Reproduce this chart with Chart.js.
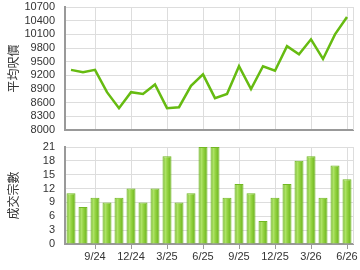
<!DOCTYPE html>
<html>
<head>
<meta charset="utf-8">
<script src="https://cdn.jsdelivr.net/npm/chart.js@4"></script>
<style>
  body { margin: 0; background: #fff; }
  #wrap { position: relative; width: 360px; height: 270px; }
  canvas { position: absolute; left: 0; }
  #priceChart { top: 0; }
  #dealChart { top: 135px; }
</style>
</head>
<body>
<div id="wrap">
  <canvas id="priceChart" width="360" height="140"></canvas>
  <canvas id="dealChart" width="360" height="135"></canvas>
</div>
<script>
const months = ['7/24', '8/24', '9/24', '10/24', '11/24', '12/24', '1/25', '2/25', '3/25', '4/25', '5/25', '6/25',
                '7/25', '8/25', '9/25', '10/25', '11/25', '12/25', '1/26', '2/26', '3/26', '4/26', '5/26', '6/26'];
const tickMonths = ['9/24', '12/24', '3/25', '6/25', '9/25', '12/25', '3/26', '6/26'];
const avgPrice = [9320, 9270, 9320, 8830, 8480, 8830, 8790, 9000, 8480, 8500, 8970, 9220,
                  8700, 8790, 9400, 8900, 9400, 9300, 9840, 9660, 9990, 9560, 10100, 10480];
const deals = [11, 8, 10, 9, 10, 12, 9, 12, 19, 9, 11, 21, 21, 10, 13, 11, 5, 10, 13, 18, 19, 10, 17, 14];

const tickFont = { family: 'Arial, "Liberation Sans", sans-serif', size: 11 };
const titleFont = { family: '"Noto Sans CJK TC", sans-serif', size: 12 };

Chart.defaults.animation = false;
Chart.defaults.color = '#333';

const isTick = (i) => tickMonths.includes(months[i]);

// right edge of the plot frame
const frameRight = {
    id: 'frameRight',
    afterDraw(chart) {
        const a = chart.chartArea, c = chart.ctx;
        c.save();
        c.strokeStyle = '#ddd';
        c.lineWidth = 1;
        c.beginPath();
        c.moveTo(a.right + 0.5, a.top);
        c.lineTo(a.right + 0.5, a.bottom);
        c.stroke();
        c.restore();
    }
};

function xAxis(showLabels) {
    return {
        type: 'category',
        offset: true,
        grid: {
            offset: false,
            color: (c) => isTick(c.index) ? '#ddd' : 'rgba(0,0,0,0)',
            tickColor: (c) => isTick(c.index) ? '#999' : 'rgba(0,0,0,0)',
            drawTicks: showLabels,
            tickLength: 5
        },
        border: { color: '#999', width: 2 },
        ticks: {
            display: showLabels,
            autoSkip: false,
            maxRotation: 0,
            padding: 1,
            font: tickFont,
            callback: (v, i) => isTick(i) ? months[i] : ''
        },
        afterFit: (s) => { s.height = showLabels ? 26 : 0; }
    };
}

function yAxis(min, max, step, title) {
    return {
        min: min,
        max: max,
        // invisible tick marks push the labels away from the axis
        grid: { color: '#ddd', drawTicks: true, tickLength: 10, tickColor: 'rgba(0,0,0,0)' },
        border: { color: '#999', width: 2 },
        ticks: { stepSize: step, autoSkip: false, padding: 0, font: tickFont, callback: (v) => String(v) },
        title: { display: true, text: title, font: titleFont, padding: { top: 6, bottom: 0 } },
        afterFit: (s) => { s.width = 65; }
    };
}

// Line chart - average price per sq ft
new Chart(document.getElementById('priceChart'), {
    type: 'line',
    data: {
        labels: months,
        datasets: [{
            data: avgPrice,
            borderColor: '#66bb11',
            borderWidth: 2.5,
            pointRadius: 0,
            tension: 0
        }]
    },
    options: {
        responsive: false,
        layout: { padding: { top: 7, right: 7, bottom: 10, left: 0 } },
        scales: {
            x: xAxis(false),
            y: yAxis(8000, 10700, 300, '平均呎價')
        },
        plugins: { legend: { display: false }, tooltip: { enabled: false } }
    },
    plugins: [frameRight]
});

// Bar chart - number of deals
function barFill(c) {
    const chart = c.chart;
    const xs = chart.scales.x;
    const cx = xs ? xs.getPixelForValue(c.dataIndex) : NaN;
    if (!isFinite(cx)) return '#88cc33';
    const w = 9;
    const g = chart.ctx.createLinearGradient(cx - w / 2, 0, cx + w / 2, 0);
    g.addColorStop(0, '#62ab16');
    g.addColorStop(0.3, '#b0e46a');
    g.addColorStop(0.55, '#93d340');
    g.addColorStop(1, '#66ae18');
    return g;
}

new Chart(document.getElementById('dealChart'), {
    type: 'bar',
    data: {
        labels: months,
        datasets: [{
            data: deals,
            backgroundColor: barFill,
            borderColor: '#72b823',
            borderWidth: 1,
            barPercentage: 0.75,
            categoryPercentage: 1
        }]
    },
    options: {
        responsive: false,
        layout: { padding: { top: 12, right: 7, bottom: 0, left: 0 } },
        scales: {
            x: xAxis(true),
            y: yAxis(0, 21, 3, '成交宗數')
        },
        plugins: { legend: { display: false }, tooltip: { enabled: false } }
    },
    plugins: [frameRight]
});
</script>
</body>
</html>
